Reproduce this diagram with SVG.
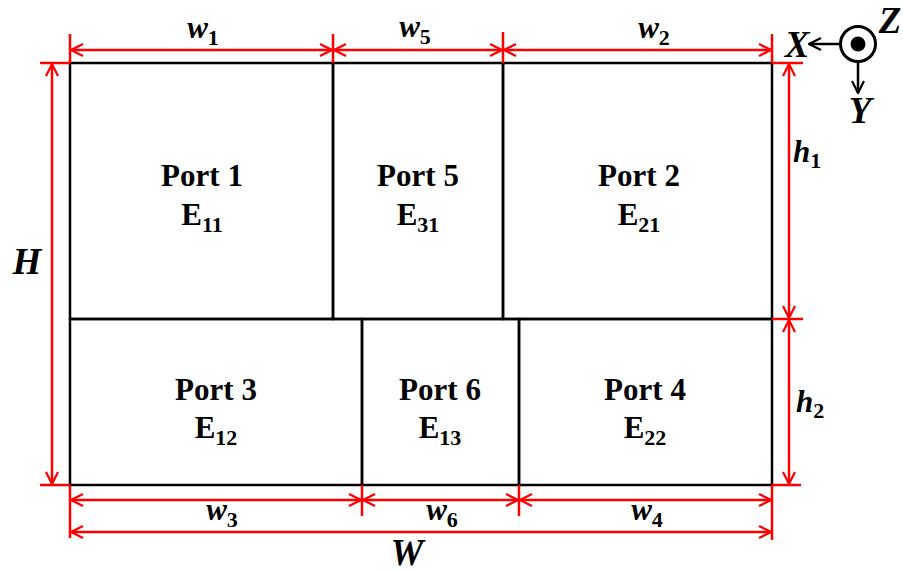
<svg xmlns="http://www.w3.org/2000/svg" width="903" height="572" viewBox="0 0 903 572">
<style>
.cell{fill:none;stroke:#000;stroke-width:2.5}
.dim{stroke:#f00;stroke-width:2.5;fill:none}
.tick{stroke:#f00;stroke-width:2.5}
.lbl{font-family:"Liberation Serif","Times New Roman",serif;font-weight:bold;font-size:31px;fill:#000;text-anchor:middle}
.var{font-family:"Liberation Serif","Times New Roman",serif;font-weight:bold;font-style:italic;font-size:31px;fill:#000;text-anchor:middle}
.big{font-size:37px}
.sub{font-size:22px;font-style:normal}
.ax{stroke:#000;stroke-width:2.5;fill:none}
</style>
<defs>
<marker id="ar" viewBox="0 0 14 14" refX="13" refY="7" markerWidth="14" markerHeight="14" markerUnits="userSpaceOnUse" orient="auto-start-reverse">
<path d="M1,1 L13,7 L1,13" fill="none" stroke="#f00" stroke-width="2.2"/>
</marker>
<marker id="ak" viewBox="0 0 14 14" refX="13" refY="7" markerWidth="14" markerHeight="14" markerUnits="userSpaceOnUse" orient="auto">
<path d="M1,1 L13,7 L1,13" fill="none" stroke="#000" stroke-width="2.2"/>
</marker>
</defs>
<rect x="0" y="0" width="903" height="572" fill="#fff"/>

<g id="port1"><rect class="cell" x="70" y="63" width="263" height="256"/><text class="lbl" x="202" y="186">Port 1</text><text class="lbl" x="202" y="225">E<tspan class="sub" dy="7">11</tspan></text></g>
<g id="port5"><rect class="cell" x="333" y="63" width="170" height="256"/><text class="lbl" x="418" y="186">Port 5</text><text class="lbl" x="418" y="225">E<tspan class="sub" dy="7">31</tspan></text></g>
<g id="port2"><rect class="cell" x="503" y="63" width="269" height="256"/><text class="lbl" x="639" y="186">Port 2</text><text class="lbl" x="639" y="225">E<tspan class="sub" dy="7">21</tspan></text></g>
<g id="port3"><rect class="cell" x="70" y="319" width="292" height="166"/><text class="lbl" x="216" y="400">Port 3</text><text class="lbl" x="216" y="438">E<tspan class="sub" dy="7">12</tspan></text></g>
<g id="port6"><rect class="cell" x="362" y="319" width="157" height="166"/><text class="lbl" x="440" y="400">Port 6</text><text class="lbl" x="440" y="438">E<tspan class="sub" dy="7">13</tspan></text></g>
<g id="port4"><rect class="cell" x="519" y="319" width="253" height="166"/><text class="lbl" x="645" y="400">Port 4</text><text class="lbl" x="645" y="438">E<tspan class="sub" dy="7">22</tspan></text></g>

<g id="connectors">
<line class="tick" x1="70" y1="34" x2="70" y2="63"/>
<line class="tick" x1="333" y1="34" x2="333" y2="63"/>
<line class="tick" x1="503" y1="32" x2="503" y2="63"/>
<line class="tick" x1="772" y1="34" x2="772" y2="63"/>
<line class="tick" x1="40" y1="63" x2="70" y2="63"/>
<line class="tick" x1="40" y1="485" x2="70" y2="485"/>
<line class="tick" x1="772" y1="63" x2="803" y2="63"/>
<line class="tick" x1="772" y1="319" x2="803" y2="319"/>
<line class="tick" x1="772" y1="485" x2="801" y2="485"/>
<line class="tick" x1="70" y1="485" x2="70" y2="538"/>
<line class="tick" x1="362" y1="485" x2="362" y2="516"/>
<line class="tick" x1="519" y1="485" x2="519" y2="516"/>
<line class="tick" x1="772" y1="485" x2="772" y2="540"/>
<line class="dim" x1="71" y1="50" x2="332" y2="50" marker-start="url(#ar)" marker-end="url(#ar)"/>
<line class="dim" x1="334" y1="50" x2="502" y2="50" marker-start="url(#ar)" marker-end="url(#ar)"/>
<line class="dim" x1="504" y1="50" x2="771" y2="50" marker-start="url(#ar)" marker-end="url(#ar)"/>
<line class="dim" x1="52" y1="64" x2="52" y2="484" marker-start="url(#ar)" marker-end="url(#ar)"/>
<line class="dim" x1="789" y1="64" x2="789" y2="318" marker-start="url(#ar)" marker-end="url(#ar)"/>
<line class="dim" x1="789" y1="320" x2="789" y2="484" marker-start="url(#ar)" marker-end="url(#ar)"/>
<line class="dim" x1="71" y1="500" x2="361" y2="500" marker-start="url(#ar)" marker-end="url(#ar)"/>
<line class="dim" x1="363" y1="500" x2="518" y2="500" marker-start="url(#ar)" marker-end="url(#ar)"/>
<line class="dim" x1="520" y1="500" x2="771" y2="500" marker-start="url(#ar)" marker-end="url(#ar)"/>
<line class="dim" x1="71" y1="532" x2="771" y2="532" marker-start="url(#ar)" marker-end="url(#ar)"/>
</g>

<g id="dim-labels">
<text class="var" x="203" y="38">w<tspan class="sub" dy="7">1</tspan></text>
<text class="var" x="415" y="37">w<tspan class="sub" dy="7">5</tspan></text>
<text class="var" x="654" y="38">w<tspan class="sub" dy="7">2</tspan></text>
<text class="var" x="222" y="520">w<tspan class="sub" dy="7">3</tspan></text>
<text class="var" x="442" y="520">w<tspan class="sub" dy="7">6</tspan></text>
<text class="var" x="647" y="520">w<tspan class="sub" dy="7">4</tspan></text>
<text class="var" x="807" y="162">h<tspan class="sub" dy="6">1</tspan></text>
<text class="var" x="810" y="412">h<tspan class="sub" dy="6">2</tspan></text>
<text class="var big" x="27" y="274">H</text>
<text class="var big" x="407" y="565">W</text>
</g>

<g id="axes">
<circle cx="858" cy="44" r="17.5" fill="none" stroke="#000" stroke-width="3"/>
<circle cx="858" cy="44" r="7.5" fill="#000"/>
<line class="ax" x1="840" y1="44" x2="809" y2="44" marker-end="url(#ak)"/>
<line class="ax" x1="858" y1="62" x2="858" y2="93" marker-end="url(#ak)"/>
<text class="var big" x="797" y="57">X</text>
<text class="var big" x="890" y="33">Z</text>
<text class="var big" x="860" y="123">Y</text>
</g>
</svg>
